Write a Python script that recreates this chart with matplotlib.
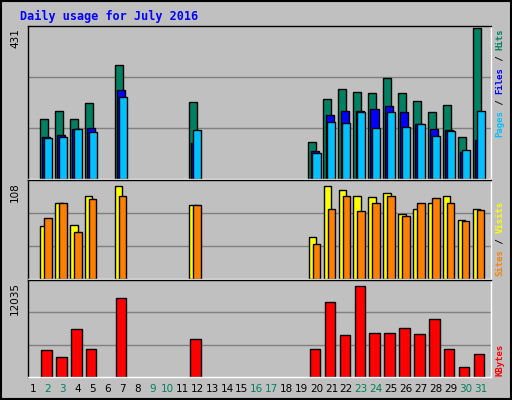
import matplotlib
matplotlib.use("Agg")
import matplotlib.pyplot as plt
import numpy as np

days = list(range(1, 32))
active = [2, 3, 4, 5, 7, 12, 20, 21, 22, 23, 24, 25, 26, 27, 28, 29, 30, 31]
hits = [171, 194, 171, 217, 325, 220, 106, 228, 257, 248, 245, 288, 245, 223, 191, 211, 120, 431]
files = [120, 125, 143, 145, 254, 103, 80, 183, 194, 194, 200, 208, 191, 157, 143, 140, 77, 111]
pages = [117, 120, 143, 134, 234, 140, 74, 163, 160, 191, 145, 191, 148, 157, 123, 137, 83, 194]
visits = [58, 84, 60, 91, 102, 82, 46, 103, 98, 91, 90, 95, 72, 77, 84, 91, 65, 77]
sites = [67, 84, 52, 88, 91, 81, 39, 77, 91, 75, 84, 91, 69, 84, 89, 84, 64, 76]
kbytes = [3463, 2576, 6123, 3589, 10050, 4856, 3589, 9544, 5363, 11570, 5616, 5616,
          6250, 5490, 7390, 3589, 1309, 2956]
weekend = [2, 3, 9, 10, 16, 17, 23, 24, 30, 31]
max_hits, max_visits, max_kb = 431, 108, 12035

BG = "#c0c0c0"
W, H = 512, 400
fig = plt.figure(figsize=(W / 100, H / 100), dpi=100, facecolor=BG)


def px_axes(x0, y0, x1, y1):
    ax = fig.add_axes([x0 / W, 1 - y1 / H, (x1 - x0) / W, (y1 - y0) / H])
    ax.set_facecolor(BG)
    ax.set_xlim(0.66, 31.7)
    ax.set_xticks([])
    ax.set_yticks([])
    for s in ax.spines.values():
        s.set_linewidth(1)
    ax.spines["bottom"].set_color("white")
    ax.spines["right"].set_color("white")
    return ax


def grid(ax, top):
    for f in (1 / 3, 2 / 3):
        ax.axhline(top * f, color="#808080", lw=1, zorder=0)
    ax.set_ylim(0, top)


bar_kw = dict(align="edge", edgecolor="black", linewidth=1)
d = np.array(active)

ax1 = px_axes(28, 26, 491, 179)
grid(ax1, max_hits * 1.01)
ax1.bar(d - 0.54, hits, 0.54, color="#008060", **bar_kw)
ax1.bar(d - 0.38, files, 0.54, color="#0000ff", **bar_kw)
ax1.bar(d - 0.27, pages, 0.54, color="#00c0ff", **bar_kw)

ax2 = px_axes(28, 180, 491, 279)
grid(ax2, max_visits * 1.01)
ax2.bar(d - 0.52, visits, 0.5, color="#ffff00", **bar_kw)
ax2.bar(d - 0.25, sites, 0.5, color="#ff8000", **bar_kw)

ax3 = px_axes(28, 280, 491, 377)
grid(ax3, max_kb * 1.03)
ax3.bar(d - 0.45, kbytes, 0.7, color="#ff0000", **bar_kw)

for day in days:
    ax3.text(day, -0.12, str(day), transform=ax3.get_xaxis_transform(),
             ha="center", va="center", fontsize=7.5, family="DejaVu Sans",
             color="#008060" if day in weekend else "black")

fig.text(20 / W, 1 - 16 / H, "Daily usage for July 2016", color="#0000ff",
         fontsize=8.5, family="DejaVu Sans Mono", weight="bold", va="center")

for label, y in (("431", 28), ("108", 182), ("12035", 282)):
    fig.text(15 / W, 1 - y / H, label, rotation=90, ha="center", va="top",
             fontsize=7.5, family="DejaVu Sans")

cw = 5.43


def side_label(parts, y_bottom):
    y = y_bottom
    for txt, col in parts:
        fig.text(500 / W, 1 - y / H, txt, rotation=90, ha="center", va="bottom",
                 fontsize=6.5, family="DejaVu Sans Mono", weight="bold", color=col)
        y -= len(txt) * cw


side_label([("Pages", "#00c0ff"), (" / ", "black"), ("Files", "#0000ff"),
            (" / ", "black"), ("Hits", "#008060")], 137)
side_label([("Sites", "#ff8000"), (" / ", "black"), ("Visits", "#ffff00")], 276)
side_label([("KBytes", "#ff0000")], 376)

fig.add_artist(plt.Rectangle((0.002, 0.002), 0.996, 0.996, transform=fig.transFigure,
                             fill=False, edgecolor="black", lw=1.5))
fig.savefig("out.png", dpi=100, facecolor=BG)
